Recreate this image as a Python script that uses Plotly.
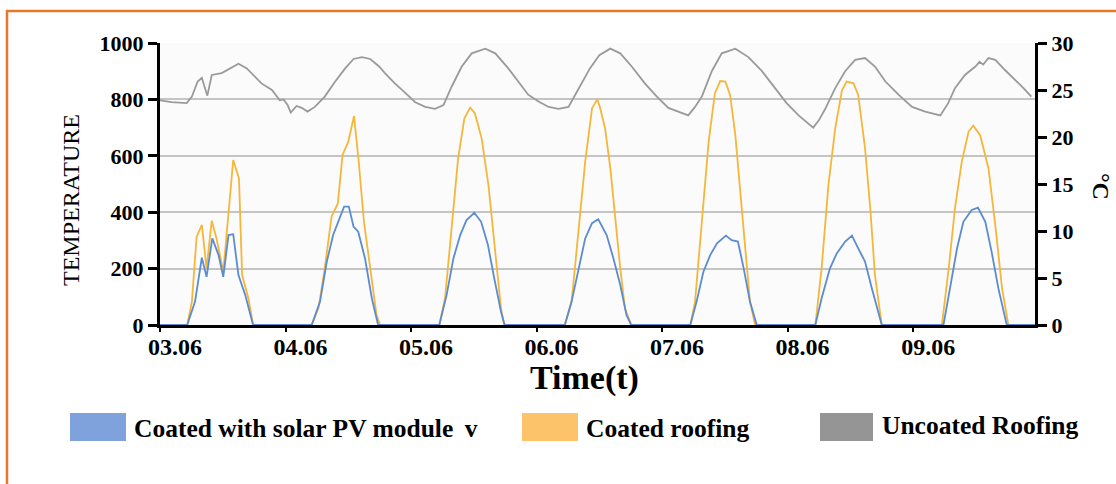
import plotly.graph_objects as go

# ---- data (hours since 03.06 00:00) ----
day_ticks = [0, 24, 48, 72, 96, 120, 144]
day_labels = ["03.06", "04.06", "05.06", "06.06", "07.06", "08.06", "09.06"]

pv_hours = [0, 5.2, 6.7, 8.0, 8.9, 10.0, 11.2, 12.1, 13.1, 14.0, 15.0, 16.3, 17.8,
            29.0, 30.6, 31.9, 33.1, 34.4, 35.2, 36.1, 37.0, 37.9, 39.2, 40.5, 41.7,
            53.4, 54.8, 56.1, 57.4, 58.6, 60.1, 61.4, 62.7, 63.9, 65.2, 65.9,
            77.4, 78.7, 80.0, 81.3, 82.6, 83.8, 85.4, 86.7, 88.0, 89.2, 90.1,
            101.4, 102.6, 103.9, 105.2, 106.5, 108.2, 109.3, 110.5, 111.6, 112.8, 114.1,
            125.3, 126.5, 128.1, 129.4, 131.0, 132.3, 133.5, 134.8, 136.1, 138.0,
            149.8, 151.1, 152.4, 153.6, 155.2, 156.4, 157.8, 159.0, 160.3, 161.9, 167.3]
pv_values = [0, 0, 83, 239, 171, 307, 248, 171, 319, 322, 177, 106, 0,
             0, 83, 225, 319, 384, 420, 420, 349, 331, 236, 95, 0,
             0, 106, 236, 319, 372, 398, 366, 284, 166, 47, 0,
             0, 83, 201, 307, 361, 375, 319, 236, 142, 35, 0,
             0, 83, 189, 248, 290, 317, 301, 296, 201, 83, 0,
             0, 95, 201, 254, 296, 317, 272, 225, 130, 0,
             0, 130, 272, 366, 408, 416, 366, 260, 130, 0, 0]

coated_hours = [0, 5.2, 6.1, 7.0, 8.0, 8.9, 9.9, 10.8, 12.1, 13.1, 14.0, 15.1, 15.7, 16.9, 17.8,
                29.0, 30.3, 31.5, 32.8, 34.0, 34.9, 36.0, 37.1, 38.0, 39.0, 40.2, 41.4, 42.1,
                53.4, 54.5, 55.8, 57.0, 58.2, 59.3, 60.2, 61.5, 62.8, 64.1, 65.2, 65.8,
                77.4, 78.7, 80.0, 81.3, 82.6, 83.6, 84.1, 85.1, 86.1, 87.0, 88.0, 88.9, 90.1,
                101.4, 102.3, 103.6, 104.9, 106.1, 107.1, 108.1, 109.0, 110.0, 110.9, 111.9, 112.8, 113.8,
                125.3, 126.5, 127.8, 129.1, 130.4, 131.3, 132.6, 133.5, 134.8, 135.8, 136.7, 138.0,
                149.5, 150.8, 152.0, 153.3, 154.6, 155.5, 156.8, 158.4, 159.7, 161.0, 162.2, 167.3]
coated_values = [0, 0, 83, 313, 355, 201, 370, 307, 189, 402, 585, 520, 177, 95, 0,
                 0, 59, 201, 384, 431, 603, 650, 741, 579, 366, 201, 35, 0,
                 0, 95, 366, 591, 733, 771, 751, 662, 496, 260, 59, 0,
                 0, 83, 319, 579, 768, 800, 774, 697, 556, 378, 201, 59, 0,
                 0, 83, 366, 650, 822, 865, 863, 816, 674, 496, 272, 83, 0,
                 0, 201, 496, 697, 833, 863, 857, 816, 627, 414, 177, 0,
                 0, 201, 414, 579, 686, 707, 674, 556, 355, 130, 0, 0]

uncoated_hours = [0, 2.2, 5.1, 6.1, 7.2, 8.0, 9.05, 9.9, 11.8, 13.4, 15.0, 16.6, 18.2, 19.4, 21.4,
                  22.9, 23.6, 24.4, 25.0, 26.1, 27.1, 28.2, 29.6, 31.5, 33.5, 35.4, 37.0, 38.6,
                  40.2, 41.9, 43.0, 44.9, 46.9, 48.8, 50.7, 52.6, 54.2, 55.8, 57.7, 59.6, 62.2,
                  64.1, 66.6, 68.5, 70.4, 72.3, 74.3, 76.2, 78.1, 79.4, 80.6, 82.2, 84.0, 86.1,
                  88.0, 90.2, 92.7, 95.0, 97.2, 99.1, 101.0, 102.3, 103.6, 105.5, 107.4, 110.0,
                  112.5, 115.1, 117.6, 119.8, 122.1, 123.7, 124.9, 126.0, 127.2, 129.1, 131.0,
                  132.9, 134.8, 136.7, 138.7, 141.2, 143.8, 146.3, 149.2, 150.7, 152.0, 153.9,
                  155.9, 156.7, 157.4, 158.4, 159.7, 161.6, 163.5, 165.1, 166.6]
uncoated_values = [23.9, 23.7, 23.6, 24.3, 25.9, 26.3, 24.4, 26.6, 26.8, 27.3, 27.8, 27.3, 26.4, 25.7, 25.0,
                   23.9, 24.0, 23.4, 22.6, 23.3, 23.1, 22.7, 23.2, 24.3, 25.9, 27.3, 28.3, 28.5,
                   28.3, 27.5, 26.8, 25.7, 24.7, 23.7, 23.2, 23.0, 23.4, 25.4, 27.5, 28.9, 29.4,
                   28.9, 27.3, 25.9, 24.5, 23.8, 23.2, 23.0, 23.2, 24.5, 25.7, 27.3, 28.7, 29.4,
                   28.9, 27.5, 25.7, 24.3, 23.1, 22.7, 22.3, 23.2, 24.3, 27.0, 28.9, 29.4,
                   28.5, 27.0, 25.2, 23.6, 22.3, 21.5, 21.0, 21.8, 23.0, 25.2, 27.0,
                   28.2, 28.4, 27.5, 25.9, 24.5, 23.2, 22.7, 22.3, 23.6, 25.2, 26.6,
                   27.5, 28.0, 27.7, 28.4, 28.2, 27.1, 26.1, 25.2, 24.3]

series_names = ["Coated with solar PV module\u00a0\u2009v", "Coated roofing", "Uncoated Roofing"]
line_colors = ["#5b8bd0", "#f5b63a", "#9a9a9a"]
legend_colors = ["#7fa1dc", "#fdc36b", "#959595"]

FONT = "Liberation Serif"

fig = go.Figure()
fig.add_trace(go.Scatter(x=uncoated_hours, y=uncoated_values, yaxis="y2", mode="lines",
                         name=series_names[2], line=dict(color=line_colors[2], width=1.8)))
fig.add_trace(go.Scatter(x=coated_hours, y=coated_values, mode="lines",
                         name=series_names[1], line=dict(color=line_colors[1], width=1.8)))
fig.add_trace(go.Scatter(x=pv_hours, y=pv_values, mode="lines",
                         name=series_names[0], line=dict(color=line_colors[0], width=1.8)))

L, R, T, B = 160, 81, 43, 159
W, H = 1116, 484
pw, ph = W - L - R, H - T - B


def px(x):
    return (x - L) / pw


def py(y):
    return (H - B - y) / ph


fig.update_layout(
    width=W, height=H,
    margin=dict(l=L, r=R, t=T, b=B, pad=0),
    paper_bgcolor="white", plot_bgcolor="#fbfbfb",
    showlegend=False,
    font=dict(family=FONT, color="black"),
    xaxis=dict(range=[0, 167.3], tickmode="array", tickvals=day_ticks, ticktext=day_labels,
               showline=True, linecolor="black", linewidth=3, ticks="outside", ticklen=4,
               tickwidth=1.5, tickcolor="black", showgrid=False, zeroline=False,
               tickfont=dict(family=FONT, size=24, weight="bold", color="black"),
               ticklabelshift=15, ticklabelstandoff=-6),
    yaxis=dict(range=[0, 1000], tickmode="array", tickvals=[0, 200, 400, 600, 800, 1000],
               showline=True, linecolor="black", linewidth=3, ticks="outside", ticklen=9,
               tickwidth=3, tickcolor="black", showgrid=True, gridcolor="#c4c4c4", gridwidth=1.5,
               zeroline=False, tickfont=dict(family=FONT, size=22, weight="bold", color="black")),
    yaxis2=dict(range=[0, 30], tickmode="array", tickvals=[0, 5, 10, 15, 20, 25, 30],
                overlaying="y", side="right", showline=True, linecolor="black", linewidth=3,
                ticks="outside", ticklen=9, tickwidth=3, tickcolor="black", showgrid=False,
                zeroline=False, tickfont=dict(family=FONT, size=22, weight="bold", color="black")),
)

shapes = [dict(type="rect", xref="paper", yref="paper", x0=px(7), x1=px(1130), y0=py(500), y1=py(11),
               line=dict(color="#e8782a", width=2.5), fillcolor="rgba(0,0,0,0)", layer="below")]
annotations = [
    dict(text="TEMPERATURE", xref="paper", yref="paper", x=px(71), y=py(200), textangle=-90,
         showarrow=False, font=dict(family=FONT, size=24, color="black"), xanchor="center", yanchor="middle"),
    dict(text="\u00b0C", xref="paper", yref="paper", x=px(1101), y=py(186), textangle=90,
         showarrow=False, font=dict(family=FONT, size=24, weight="bold", color="black"),
         xanchor="center", yanchor="middle"),
    dict(text="Time(t)", xref="paper", yref="paper", x=px(584), y=py(378), showarrow=False,
         font=dict(family=FONT, size=34, weight="bold", color="black"), xanchor="center", yanchor="middle"),
]

legend_items = [(70, 126, 132, 428), (522, 578, 584, 428), (820, 873, 880, 425)]
for (sx0, sx1, tx, ty), name, col in zip(legend_items, series_names, legend_colors):
    shapes.append(dict(type="rect", xref="paper", yref="paper", x0=px(sx0), x1=px(sx1),
                       y0=py(441), y1=py(413), line=dict(width=0), fillcolor=col))
    annotations.append(dict(text=name, xref="paper", yref="paper", x=px(tx), y=py(ty),
                            showarrow=False, xanchor="left", yanchor="middle",
                            font=dict(family=FONT, size=25.5, weight="bold", color="black")))

fig.update_layout(shapes=shapes, annotations=annotations)
fig.write_html("out.html", config={"displayModeBar": False},
               post_script="document.body.style.margin='0';")
